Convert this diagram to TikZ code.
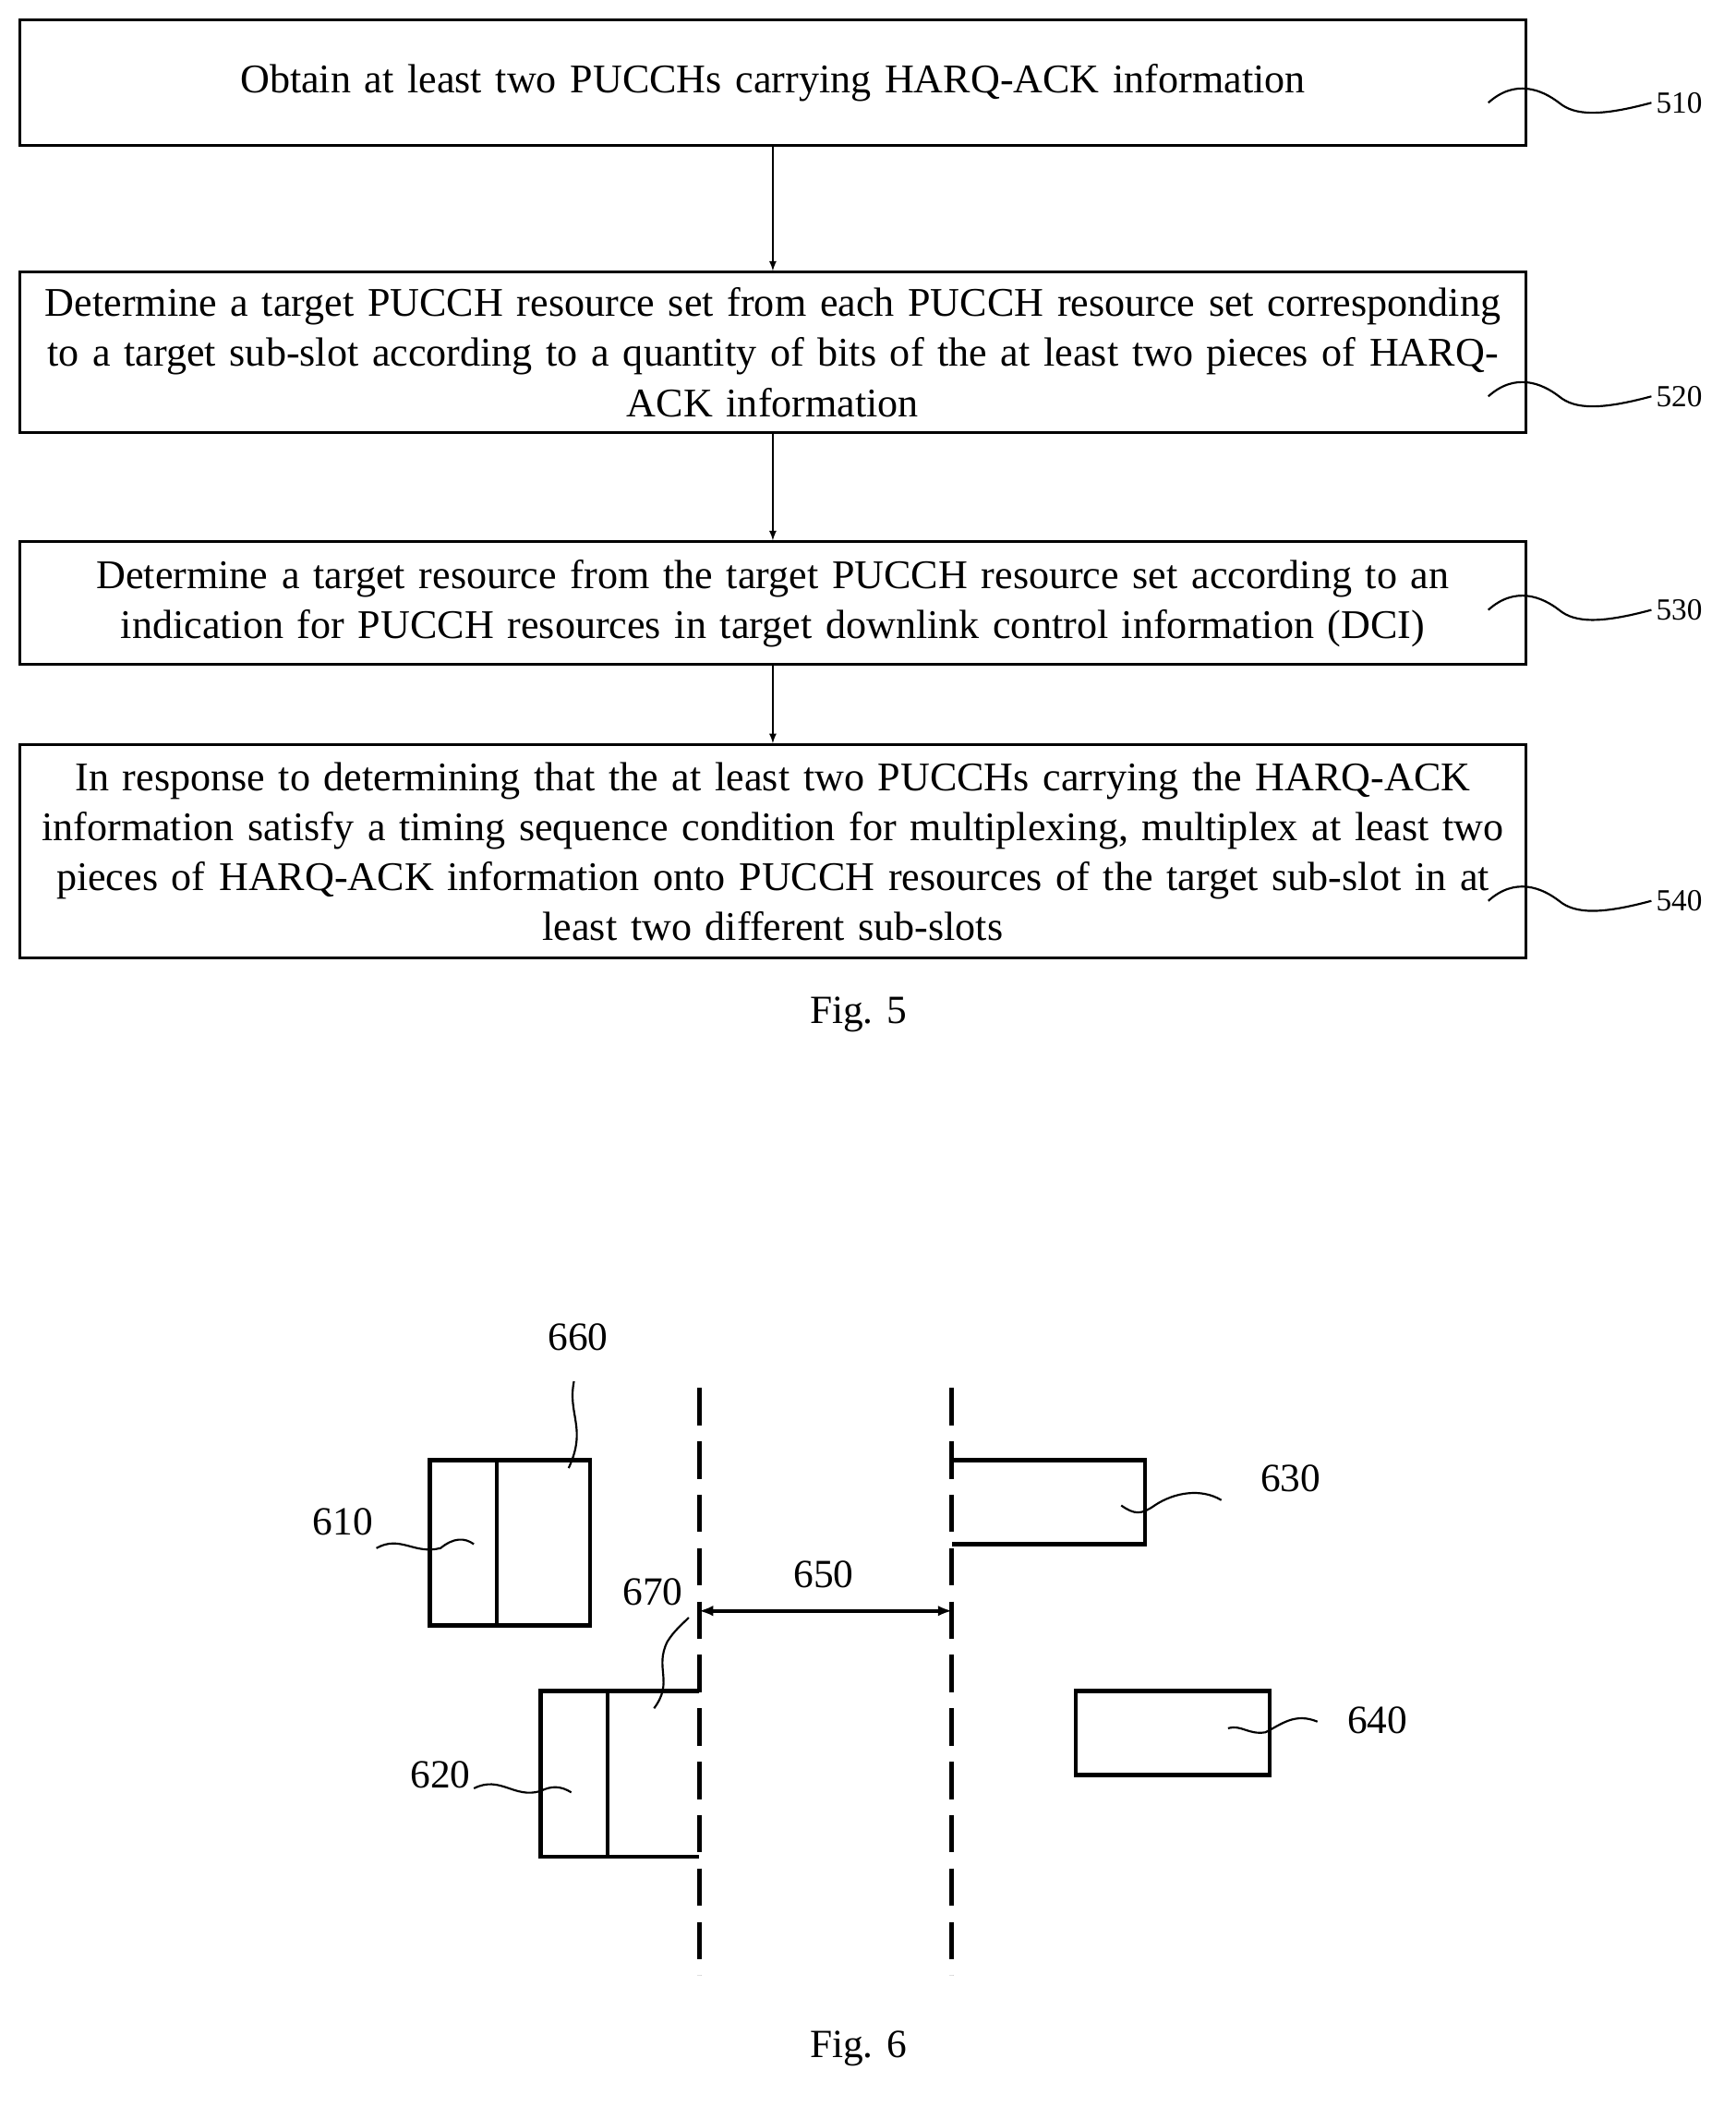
\documentclass[tikz,border=0pt]{standalone}
\usepackage{fontspec}
\setmainfont{Liberation Serif}
\begin{document}
\begin{tikzpicture}[x=1pt,y=-1pt,
  box/.style={draw,line width=2pt,minimum width=1128pt,text width=1110pt,align=center,inner sep=0pt,font=\fontsize{30.5}{37.5}\selectfont},
  lab/.style={font=\fontsize{23}{26}\selectfont},
  big/.style={font=\fontsize{30}{32}\selectfont},
  arr/.style={->,>=latex,line width=1.5pt},
  sq/.style={line width=1.5pt},
  thk/.style={line width=3pt},
  dsh/.style={line width=3pt,dash pattern=on 28pt off 12pt}]
\useasboundingbox (0,0) rectangle (1300,1578);
% Fig 5
\node[box,minimum height=94pt] (b1) at (579,62) {Obtain at least two PUCCHs carrying HARQ-ACK information};
\node[box,minimum height=120pt] (b2) at (579,264) {Determine a target PUCCH resource set from each PUCCH resource set corresponding to a target sub-slot according to a quantity of bits of the at least two pieces of HARQ-\\ACK information};
\node[box,minimum height=92pt] (b3) at (579,452) {Determine a target resource from the target PUCCH resource set according to an indication for PUCCH resources in target downlink control information (DCI)};
\node[box,minimum height=160pt] (b4) at (579,638) {In response to determining that the at least two PUCCHs carrying the HARQ-ACK\\information satisfy a timing sequence condition for multiplexing, multiplex at least two\\pieces of HARQ-ACK information onto PUCCH resources of the target sub-slot in at\\least two different sub-slots};
\draw[arr] (b1.south) -- (b2.north);
\draw[arr] (b2.south) -- (b3.north);
\draw[arr] (b3.south) -- (b4.north);
\foreach \y/\t in {77/510,297/520,457/530,675/540}{
  \node[lab] (l\t) at (1258,\y) {\t};
  \draw[sq] (1115,\y) .. controls (1135,\y-18) and (1155,\y-10) .. (1168,\y) .. controls (1180,\y+10) and (1200,\y+10) .. (l\t.west);
}
\node[big] (f5) at (643,760) {Fig. 5};
% Fig 6
\coordinate (d1t) at (524,1040); \coordinate (d1b) at (524,1480);
\coordinate (d2t) at (713,1040); \coordinate (d2b) at (713,1480);
\draw[dsh] (d1t) -- (d1b);
\draw[dsh] (d2t) -- (d2b);
\draw[thk] (322,1094) rectangle (442,1218);
\draw[thk] (372,1094) -- (372,1218);
\draw[thk] (524,1267) -- (405,1267) -- (405,1391) -- (524,1391);
\draw[thk] (455,1267) -- (455,1391);
\draw[thk] (713,1094) -- (858,1094) -- (858,1157) -- (713,1157);
\draw[thk] (806,1267) rectangle (951,1330);
\coordinate (a1) at (524,1207); \coordinate (a2) at (713,1207);
\draw[<->,>=latex,line width=2.5pt] (a1) -- (a2);
\node[big] (n650) at (617,1180) {650};
\node[big] (n660) at (433,1002) {660};
\node[big] (n610) at (257,1140) {610};
\node[big] (n670) at (489,1193) {670};
\node[big] (n620) at (330,1330) {620};
\node[big] (n630) at (967,1108) {630};
\node[big] (n640) at (1032,1289) {640};
\draw[sq] (426,1100) .. controls (440,1070) and (425,1060) .. (430,1035);
\draw[sq] (282,1160) .. controls (300,1150) and (310,1165) .. (330,1160) .. controls (340,1152) and (348,1152) .. (355,1157);
\draw[sq] (490,1280) .. controls (505,1260) and (490,1250) .. (500,1230) .. controls (505,1222) and (510,1218) .. (516,1212);
\draw[sq] (355,1340) .. controls (375,1330) and (385,1348) .. (405,1342) .. controls (413,1338) and (420,1338) .. (428,1343);
\draw[sq] (840,1128) .. controls (850,1135) and (855,1135) .. (865,1128) .. controls (880,1118) and (900,1115) .. (915,1124);
\draw[sq] (920,1295) .. controls (930,1292) and (935,1300) .. (948,1298) .. controls (960,1292) and (970,1283) .. (987,1290);
\node[big] (f6) at (643,1535) {Fig. 6};
\end{tikzpicture}
\end{document}
